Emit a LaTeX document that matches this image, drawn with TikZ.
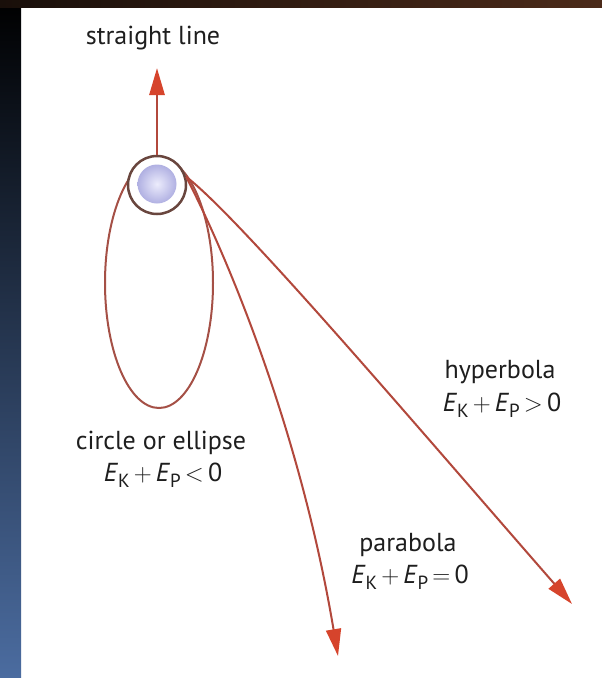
\documentclass[tikz,border=0pt]{standalone}
\usepackage{fontspec}
\setmainfont{PT Sans}
\usetikzlibrary{arrows.meta}
\definecolor{orbit}{RGB}{178,72,60}
\definecolor{tipred}{RGB}{214,68,44}
\definecolor{ringc}{RGB}{105,70,62}
\definecolor{txt}{RGB}{30,30,30}
\newcommand{\opgap}{\hspace{0.16em}}
\newcommand{\EKP}[1]{\textit{E}\raisebox{-0.22em}{\fontsize{19}{20}\selectfont K}\opgap$+$\opgap\textit{E}\raisebox{-0.22em}{\fontsize{19}{20}\selectfont P}\opgap$#1$\opgap0}
\begin{document}
\begin{tikzpicture}[x=1pt,y=-1pt,
  orbitline/.style={draw=orbit, line width=2pt},
  arrowtip/.style={-{Triangle[length=27pt,width=15pt,fill=tipred,color=tipred]}},
  lbl/.style={font=\fontsize{26}{30}\selectfont, text=txt, inner sep=0pt}]
\useasboundingbox (0,0) rectangle (602,678);
\fill[white] (0,0) rectangle (602,678);
\shade[top color=black, bottom color={rgb,255:red,75;green,108;blue,160}] (0,0) rectangle (21,678);
\shade[left color={rgb,255:red,25;green,15;blue,10}, right color={rgb,255:red,75;green,42;blue,25}] (0,0) rectangle (602,7);
% ellipse orbit
\draw[orbitline, draw={rgb,255:red,165;green,80;blue,70}] (159,283) ellipse [x radius=54, y radius=125];
% planet
\node (ring) [circle, draw=ringc, line width=2.5pt, fill=white, minimum size=58pt, inner sep=0pt] at (157,185) {};
\node (ball) [circle, minimum size=39pt, inner sep=0pt, inner color={rgb,255:red,236;green,236;blue,252}, outer color={rgb,255:red,176;green,176;blue,226}] at (157,184) {};
% tips
\coordinate (tipS) at (156,68);
\coordinate (tipP) at (338,656);
\coordinate (tipH) at (572,604);
% straight line
\draw[orbitline, line width=2.8pt, arrowtip] (ring.north) -- (ring.north |- tipS);
% parabola
\draw[orbitline, arrowtip] (ring.16) .. controls (228,258) and (300,430) .. (tipP);
% hyperbola
\draw[orbitline, arrowtip] (ring.16) .. controls (240,218) and (420,430) .. (tipH);
% labels
\node[lbl] (lS) at (153,38) {straight line};
\node[lbl] (lE1) at (161,443) {circle or ellipse};
\node[lbl] (lE2) at (163,475) {\EKP{<}};
\node[lbl] (lH1) at (500,372) {hyperbola};
\node[lbl] (lH2) at (502,405) {\EKP{>}};
\node[lbl] (lP1) at (408,545) {parabola};
\node[lbl] (lP2) at (410,577) {\EKP{=}};
\end{tikzpicture}
\end{document}
